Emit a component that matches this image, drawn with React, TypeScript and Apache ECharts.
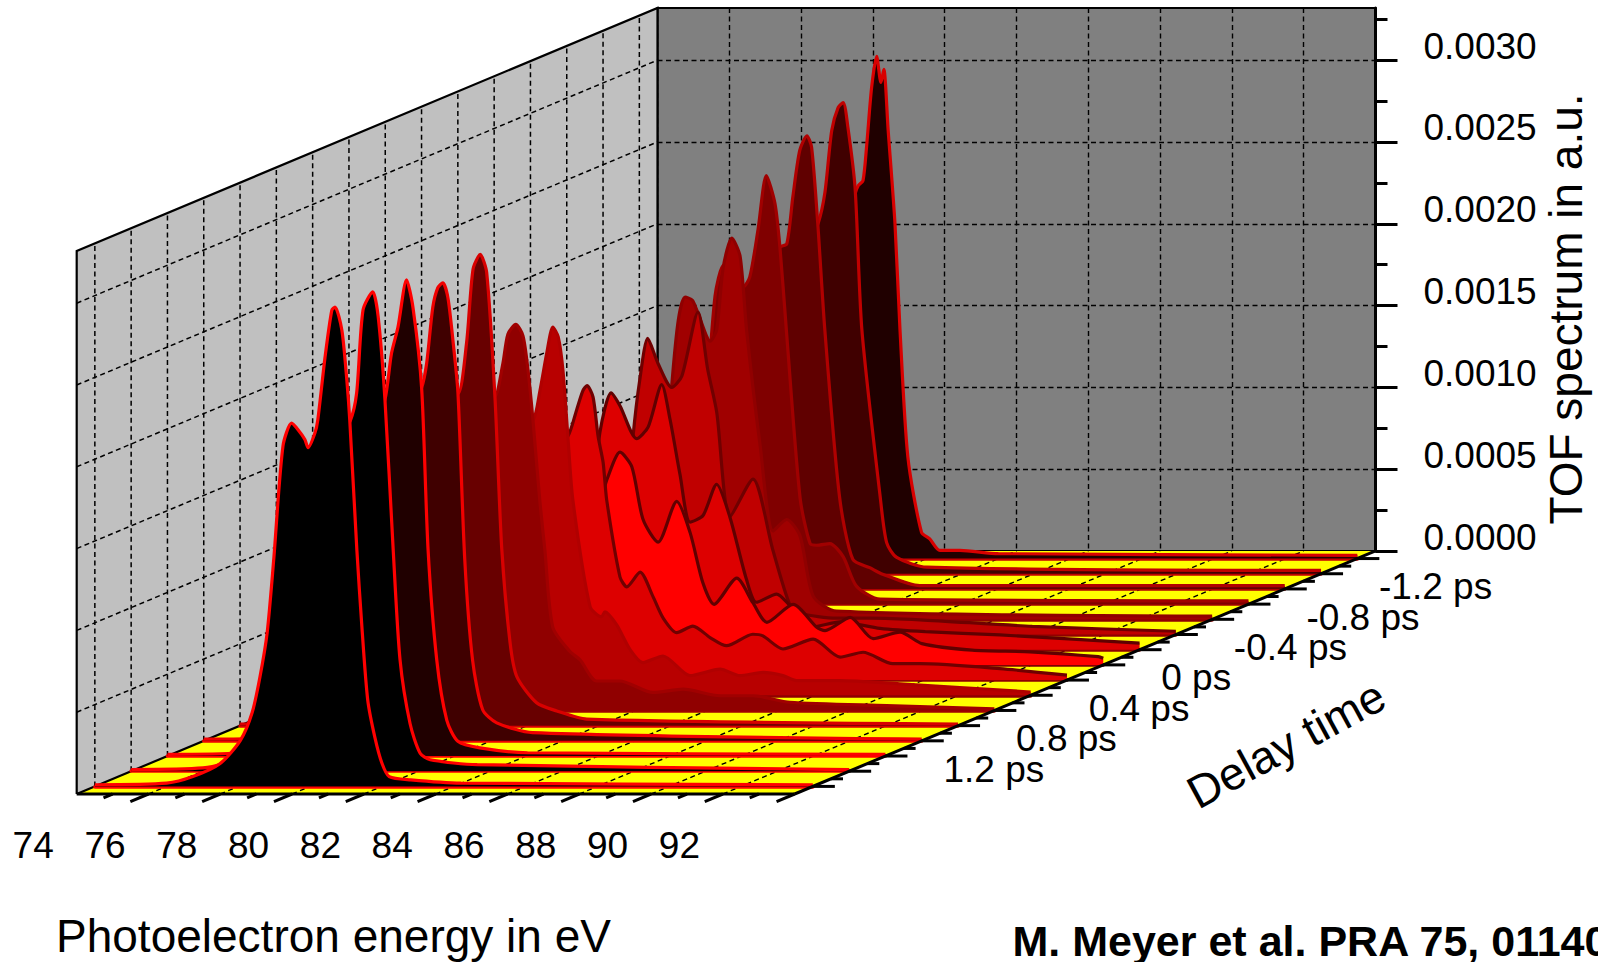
import React, { useEffect, useRef } from "react";
import * as echarts from "echarts";

// ---- data ----
const energyTicks = [74, 76, 78, 80, 82, 84, 86, 88, 90, 92];
const intensityTicks = [0, 0.0005, 0.001, 0.0015, 0.002, 0.0025, 0.003];
const intensityMinorTicks = [0.00025, 0.00075, 0.00125, 0.00175, 0.00225, 0.00275, 0.00325];
const delayLabels = [1.2, 0.8, 0.4, 0, -0.4, -0.8, -1.2];
const delays = [1.6, 1.4, 1.2, 1.0, 0.8, 0.6, 0.4, 0.2, 0, -0.2, -0.4, -0.6, -0.8, -1.0, -1.2, -1.4];

const risingEdge = [[74, 0.00001], [76, 0.00002], [76.73, 0.00006], [77.49, 0.00014], [78.05, 0.00028], [78.38, 0.00045], [78.6, 0.00067], [78.8, 0.00094]];
const hiddenShoulder = [[78.98, 0.00138], [79.24, 0.00205], [79.48, 0.0022], [79.8, 0.00205]];

const spectrum00 = [[74, 0.00001], [76, 0.00002], [76.73, 0.00006], [77.49, 0.00014], [78.05, 0.00028], [78.38, 0.00045], [78.6, 0.00067], [78.8, 0.00094], [78.98, 0.00138], [79.24, 0.00208], [79.48, 0.00222], [79.66, 0.00218], [79.85, 0.00212], [79.94, 0.00207], [80.13, 0.00216], [80.21, 0.00224], [80.41, 0.00262], [80.6, 0.00291], [80.69, 0.00293], [80.88, 0.00279], [81.02, 0.00248], [81.1, 0.00224], [81.3, 0.00144], [81.44, 0.00097], [81.6, 0.00053], [81.8, 0.0003], [82, 0.00014], [82.2, 0.00006], [82.8, 0.00004], [84.2, 0.00002], [94, 0.00001]];
const spectrum01 = [...risingEdge, ...hiddenShoulder, [80.1, 0.00214], [80.28, 0.00231], [80.46, 0.00282], [80.73, 0.00293], [80.88, 0.00278], [81.07, 0.00227], [81.3, 0.00135], [81.49, 0.00068], [81.77, 0.00029], [82.05, 0.00011], [82.33, 0.00007], [83.64, 0.00004], [94, 0.00001]];
const spectrum02 = [...risingEdge, ...hiddenShoulder, [80.06, 0.00218], [80.24, 0.00246], [80.42, 0.00262], [80.66, 0.00291], [80.84, 0.00274], [81.08, 0.00225], [81.26, 0.00126], [81.5, 0.00059], [81.78, 0.00022], [82.09, 0.00009], [82.7, 0.00005], [84.03, 0.00002], [94, 0.00001]];
const spectrum03 = [...risingEdge, ...hiddenShoulder, [80.07, 0.00216], [80.21, 0.00231], [80.38, 0.00265], [80.52, 0.00277], [80.66, 0.0028], [80.8, 0.00271], [80.94, 0.00245], [81.08, 0.00213], [81.27, 0.00111], [81.49, 0.00049], [81.77, 0.00019], [82.16, 0.00011], [83.16, 0.00005], [94, 0.00001]];
const spectrum04 = [...risingEdge, ...hiddenShoulder, [80.07, 0.00203], [80.31, 0.00234], [80.49, 0.00279], [80.69, 0.00288], [80.87, 0.00277], [81.1, 0.00201], [81.29, 0.00108], [81.52, 0.00051], [81.71, 0.0003], [82.26, 0.00014], [82.82, 0.00009], [83.66, 0.00004], [94, 0.00001]];
const spectrum05 = [...risingEdge, ...hiddenShoulder, [80.09, 0.00192], [80.31, 0.00212], [80.45, 0.0023], [80.67, 0.00236], [80.87, 0.00229], [81.01, 0.00208], [81.15, 0.00177], [81.34, 0.00128], [81.48, 0.00098], [81.7, 0.00051], [82.18, 0.00036], [82.46, 0.00031], [82.92, 0.00018], [83.57, 0.00018], [84.49, 0.00011], [85.33, 0.00013], [86.36, 0.00009], [87.28, 0.00009], [88.3, 0.00005], [91, 0.00003], [94, 0.00001]];
const spectrum06 = [...risingEdge, [78.98, 0.00125], [79.3, 0.0017], [79.7, 0.00165], [80.14, 0.00168], [80.33, 0.00186], [80.52, 0.00209], [80.69, 0.00225], [80.84, 0.00219], [80.97, 0.00199], [81.11, 0.00158], [81.25, 0.00119], [81.73, 0.00054], [82.05, 0.00048], [82.14, 0.00051], [82.47, 0.00043], [82.84, 0.00028], [83.2, 0.0002], [83.76, 0.00024], [84.51, 0.00012], [85.35, 0.00016], [85.9, 0.00012], [86.55, 0.00014], [87.1, 0.00012], [87.48, 0.00009], [88.69, 0.00009], [90.35, 0.00007], [94, 0.00002]];
const spectrum07 = [...risingEdge, [79, 0.0011], [79.3, 0.0014], [79.8, 0.00145], [80.1, 0.00149], [80.34, 0.00165], [80.52, 0.00177], [80.63, 0.0018], [80.8, 0.00173], [80.94, 0.00149], [81.08, 0.00133], [81.18, 0.0011], [81.55, 0.00063], [81.74, 0.00057], [82.11, 0.00066], [82.47, 0.00051], [82.75, 0.00038], [83.13, 0.00029], [83.58, 0.00033], [84.06, 0.00026], [84.52, 0.00021], [85.25, 0.00028], [85.53, 0.00027], [86.09, 0.00019], [86.93, 0.00025], [87.68, 0.00014], [88.32, 0.00017], [89.15, 0.0001], [89.9, 0.0001], [92.13, 0.00007], [94, 0.00003]];
const spectrum08 = [...risingEdge.slice(0, 7), [79, 0.00073], [79.5, 0.00092], [80, 0.00101], [80.17, 0.00113], [80.54, 0.0013], [80.87, 0.00121], [81.18, 0.00089], [81.6, 0.00075], [82.12, 0.001], [82.49, 0.00081], [82.85, 0.0005], [83.16, 0.00037], [83.79, 0.00053], [84.24, 0.00038], [84.63, 0.00026], [85.36, 0.00037], [86.02, 0.00023], [86.25, 0.00021], [86.95, 0.00029], [87.59, 0.00016], [88.34, 0.0002], [88.95, 0.00013], [90.35, 0.00009], [91.96, 0.00008], [93.86, 0.00005], [94, 0.00004]];
const spectrum09 = [...risingEdge, [78.97, 0.00133], [79.28, 0.00157], [79.53, 0.00149], [79.99, 0.00129], [80.31, 0.00136], [80.69, 0.00162], [80.92, 0.00141], [81.2, 0.00107], [81.48, 0.00078], [81.84, 0.00082], [82.22, 0.00101], [82.59, 0.00081], [83.05, 0.00043], [83.33, 0.00029], [83.89, 0.00034], [84.26, 0.00027], [84.9, 0.00014], [85.66, 0.00017], [86.77, 0.00013], [88.03, 0.00011], [90.11, 0.00009], [94, 0.00004]];
const spectrum10 = [...risingEdge, [78.88, 0.00121], [79.07, 0.00156], [79.29, 0.00181], [79.57, 0.00166], [79.96, 0.00151], [80.24, 0.00158], [80.69, 0.00197], [80.96, 0.00162], [81.21, 0.00136], [81.58, 0.00072], [82.22, 0.00095], [82.77, 0.00052], [83.25, 0.00018], [83.53, 0.00013], [84.55, 0.0001], [85.48, 0.0001], [86.87, 0.00009], [90, 0.00005], [94, 0.00002]];
const spectrum11 = [...risingEdge, [78.94, 0.00141], [79.13, 0.00183], [79.32, 0.00197], [79.52, 0.00195], [79.68, 0.00187], [80.02, 0.0017], [80.2, 0.00177], [80.38, 0.00215], [80.62, 0.00233], [80.85, 0.00222], [81.03, 0.00177], [81.41, 0.00106], [81.77, 0.00054], [82.15, 0.00061], [82.52, 0.00051], [82.89, 0.00014], [83.54, 0.00005], [94, 0.00002]];
const spectrum12 = [...risingEdge, [79.14, 0.00188], [79.38, 0.00207], [79.64, 0.00201], [79.93, 0.00194], [80.11, 0.002], [80.34, 0.00229], [80.57, 0.00262], [80.81, 0.00245], [80.95, 0.00218], [81.13, 0.00167], [81.51, 0.00065], [81.79, 0.00037], [81.97, 0.00036], [82.34, 0.00037], [82.71, 0.00029], [83.08, 0.00011], [83.74, 0.00003], [94, 0.00002]];
const spectrum13 = [...risingEdge, ...hiddenShoulder, [79.94, 0.00209], [80.13, 0.00211], [80.3, 0.0024], [80.49, 0.00268], [80.69, 0.00277], [80.82, 0.0027], [80.99, 0.00224], [81.19, 0.00158], [81.6, 0.00056], [81.97, 0.00018], [82.44, 0.00013], [82.8, 0.00009], [83.83, 0.00002], [94, 0.00002]];
const spectrum14 = [...risingEdge, ...hiddenShoulder.slice(0, 3), [79.77, 0.00205], [79.99, 0.00214], [80.18, 0.00233], [80.37, 0.00271], [80.55, 0.00285], [80.69, 0.00288], [80.82, 0.00273], [81.02, 0.00236], [81.21, 0.00149], [81.72, 0.00047], [81.9, 0.00019], [82.18, 0.0001], [83.02, 0.00004], [94, 0.00002]];
const spectrum15 = [...risingEdge, ...hiddenShoulder.slice(0, 3), [79.81, 0.00205], [80.01, 0.00223], [80.1, 0.00228], [80.23, 0.00231], [80.33, 0.00252], [80.47, 0.00288], [80.61, 0.00307], [80.73, 0.00291], [80.81, 0.00299], [80.93, 0.00262], [81.12, 0.00205], [81.26, 0.0014], [81.48, 0.00062], [81.86, 0.00016], [82.09, 0.00012], [82.37, 0.00005], [82.93, 0.00005], [84, 0.00003], [94, 0.00002]];

const spectra = [spectrum00, spectrum01, spectrum02, spectrum03, spectrum04, spectrum05, spectrum06, spectrum07, spectrum08, spectrum09, spectrum10, spectrum11, spectrum12, spectrum13, spectrum14, spectrum15];

// ---- styles ----
const fillColors = ["#000000", "#000000", "#200000", "#400000", "#680000", "#900000", "#b80000", "#dd0000", "#ff0000", "#dd0000", "#c00000", "#a00000", "#800000", "#600000", "#400000", "#200000"];
const lineColors = ["#ff0000", "#ff0000", "#ff0000", "#f00000", "#d80000", "#a00000", "#b00000", "#700000", "#600000", "#600000", "#700000", "#900000", "#a00000", "#b00000", "#c00000", "#d80000"];
const baseColors = ["#ff0000", "#ff0000", "#ff0000", "#f00000", "#d80000", "#a00000", "#900000", "#900000", "#800000", "#900000", "#900000", "#900000", "#a00000", "#b00000", "#c00000", "#c80000"];

const FONT = "Liberation Sans";
const FS = 37;
const TITLE_FS = 46;
const X_MIN = 74;
const X_MAX = 94;
const Y_MAX = 0.003319;
const PLOT_W = 718;
const PLOT_H = 543;
const FRONT_LEFT = 76.7;
const FRONT_TOP = 251;
const BACK_LEFT = 657.5;
const BACK_TOP = 8;
const DEPTH_DX = 36.3;
const DEPTH_DY = -15.19;
const DEPTH_CELLS = 16;

const depthOfDelay = (t: number) => (1.6 - t) / 0.2 + 0.5;

function renderLeftWall(_: any, api: any) {
  const P = (e: number, v: number, d: number) => {
    const c = api.coord([e, v]);
    return [c[0] + d * DEPTH_DX, c[1] + d * DEPTH_DY];
  };
  const kids: any[] = [];
  kids.push({
    type: "polygon",
    shape: { points: [P(X_MIN, 0, 0), P(X_MIN, 0, DEPTH_CELLS), P(X_MIN, Y_MAX, DEPTH_CELLS), P(X_MIN, Y_MAX, 0)] },
    style: { fill: "#c0c0c0" },
  });
  const dash = { stroke: "#000", lineWidth: 1.5, lineDash: [5, 3.5] };
  delays.forEach((t) => {
    const d = depthOfDelay(t);
    const a = P(X_MIN, 0, d);
    const b = P(X_MIN, Y_MAX, d);
    kids.push({ type: "line", shape: { x1: a[0], y1: a[1], x2: b[0], y2: b[1] }, style: dash });
  });
  intensityTicks.slice(1).forEach((v) => {
    const a = P(X_MIN, v, 0);
    const b = P(X_MIN, v, DEPTH_CELLS);
    kids.push({ type: "line", shape: { x1: a[0], y1: a[1], x2: b[0], y2: b[1] }, style: dash });
  });
  const solid = { stroke: "#000", lineWidth: 2.2 };
  const corners = [P(X_MIN, 0, 0), P(X_MIN, Y_MAX, 0), P(X_MIN, Y_MAX, DEPTH_CELLS), P(X_MIN, 0, DEPTH_CELLS)];
  kids.push({ type: "polyline", shape: { points: corners }, style: { ...solid, fill: "none" } });
  return { type: "group", children: kids };
}

function renderFloor(_: any, api: any) {
  const P = (e: number, d: number) => {
    const c = api.coord([e, 0]);
    return [c[0] + d * DEPTH_DX, c[1] + d * DEPTH_DY];
  };
  const kids: any[] = [];
  kids.push({
    type: "polygon",
    shape: { points: [P(X_MIN, 0), P(X_MAX, 0), P(X_MAX, DEPTH_CELLS), P(X_MIN, DEPTH_CELLS)] },
    style: { fill: "#ffff00" },
  });
  for (let e = X_MIN + 2; e < X_MAX; e += 2) {
    const a = P(e, 0);
    const b = P(e, DEPTH_CELLS);
    kids.push({ type: "line", shape: { x1: a[0], y1: a[1], x2: b[0], y2: b[1] }, style: { stroke: "#000", lineWidth: 1.4, lineDash: [5, 3.5] } });
  }
  const s = P(X_MIN, 0);
  const t = P(X_MIN, DEPTH_CELLS);
  kids.push({ type: "line", shape: { x1: s[0], y1: s[1], x2: t[0], y2: t[1] }, style: { stroke: "#000", lineWidth: 2.2 } });
  return { type: "group", children: kids };
}

function renderFrame(_: any, api: any) {
  const P = (e: number, d: number) => {
    const c = api.coord([e, 0]);
    return [c[0] + d * DEPTH_DX, c[1] + d * DEPTH_DY];
  };
  const kids: any[] = [];
  const axis = { stroke: "#000", lineWidth: 3 };
  const seg = (a: number[], b: number[], style: any) =>
    kids.push({ type: "line", shape: { x1: a[0], y1: a[1], x2: b[0], y2: b[1] }, style });
  seg(P(X_MIN, 0), P(X_MAX, 0), axis);
  seg(P(X_MAX, 0), P(X_MAX, DEPTH_CELLS), axis);
  for (let e = X_MIN + 1; e <= X_MAX; e += 1) {
    const major = e % 2 === 0;
    seg(P(e, 0), P(e, major ? -0.5 : -0.25), axis);
  }
  for (let d = 0; d <= 15; d += 1) {
    const a = P(X_MAX, d + 0.5);
    seg(a, [a[0] + 22, a[1]], axis);
    const b = P(X_MAX, d + 1);
    if (d < 15) seg(b, [b[0] + 12, b[1]], axis);
  }
  const b0 = P(X_MIN, 0);
  energyTicks.forEach((e) => {
    const c = P(e, 0);
    kids.push({
      type: "text",
      style: { text: String(e), x: c[0] - 43.5, y: b0[1] + 51, fontSize: FS, fontFamily: FONT, fill: "#000", align: "center", verticalAlign: "middle" },
    });
  });
  delayLabels.forEach((t) => {
    const c = P(X_MAX, depthOfDelay(t));
    kids.push({
      type: "text",
      style: { text: `${t} ps`, x: c[0] + 58, y: c[1] + 13, fontSize: FS, fontFamily: FONT, fill: "#000", align: "left", verticalAlign: "middle" },
    });
  });
  return { type: "group", children: kids };
}

function buildOption() {
  const grid: any[] = [
    { left: BACK_LEFT, top: BACK_TOP, width: PLOT_W, height: PLOT_H, show: true, backgroundColor: "#808080", borderColor: "#000", borderWidth: 2 },
    { left: FRONT_LEFT, top: FRONT_TOP, width: PLOT_W, height: PLOT_H },
  ];
  const xAxis: any[] = [
    { gridIndex: 0, type: "value", min: X_MIN, max: X_MAX, interval: 2, axisLine: { show: false }, axisTick: { show: false }, axisLabel: { show: false }, splitLine: { show: true, lineStyle: { color: "#000", width: 1.4, type: [5, 3.5] } } },
    { gridIndex: 1, type: "value", min: X_MIN, max: X_MAX, show: false },
  ];
  const yAxis: any[] = [
    {
      gridIndex: 0, type: "value", position: "right", min: 0, max: Y_MAX, interval: 0.0005,
      axisLine: { show: true, onZero: false, lineStyle: { color: "#000", width: 3 } },
      axisTick: { show: true, length: 22, lineStyle: { color: "#000", width: 3 }, customValues: intensityTicks },
      axisLabel: { show: true, customValues: intensityTicks, margin: 48, fontSize: FS, fontFamily: FONT, color: "#000", formatter: (v: number) => v.toFixed(4), verticalAlign: "bottom", lineHeight: 28 },
      splitLine: { show: true, lineStyle: { color: "#000", width: 1.4, type: [5, 3.5] } },
    },
    {
      gridIndex: 0, type: "value", position: "right", min: 0, max: Y_MAX,
      axisLine: { show: false },
      axisTick: { show: true, length: 12, lineStyle: { color: "#000", width: 3 }, customValues: intensityMinorTicks },
      axisLabel: { show: false },
      splitLine: { show: false },
    },
    { gridIndex: 1, type: "value", min: 0, max: Y_MAX, show: false },
  ];
  const series: any[] = [
    { type: "custom", coordinateSystem: "cartesian2d", xAxisIndex: 1, yAxisIndex: 2, data: [[X_MIN, 0]], renderItem: renderLeftWall, z: 1, silent: true, clip: false },
    { type: "custom", coordinateSystem: "cartesian2d", xAxisIndex: 1, yAxisIndex: 2, data: [[X_MIN, 0]], renderItem: renderFloor, z: 2, silent: true, clip: false },
  ];
  // curves drawn from the back (index 15) to the front (index 0)
  for (let i = spectra.length - 1; i >= 0; i--) {
    const d = depthOfDelay(delays[i]);
    const g = grid.length;
    grid.push({ left: FRONT_LEFT + d * DEPTH_DX, top: FRONT_TOP + d * DEPTH_DY, width: PLOT_W, height: PLOT_H });
    const z = 4 + (15 - i) * 2;
    xAxis.push({
      gridIndex: g, type: "value", min: X_MIN, max: X_MAX, z: z - 1,
      axisLine: { show: true, onZero: false, lineStyle: { color: baseColors[i], width: 3.5 } },
      axisTick: { show: false }, axisLabel: { show: false }, splitLine: { show: false },
    });
    yAxis.push({ gridIndex: g, type: "value", min: 0, max: Y_MAX, show: false });
    series.push({
      type: "line", name: `${delays[i]} ps`, xAxisIndex: g, yAxisIndex: g + 1, data: spectra[i],
      smooth: 0.25, showSymbol: false, symbol: "none", clip: false, silent: true, z,
      lineStyle: { color: lineColors[i], width: 3.2 },
      areaStyle: { color: fillColors[i], opacity: 1, origin: "start" },
    });
  }
  series.push({ type: "custom", coordinateSystem: "cartesian2d", xAxisIndex: 1, yAxisIndex: 2, data: [[X_MIN, 0]], renderItem: renderFrame, z: 60, silent: true, clip: false });

  return {
    animation: false,
    backgroundColor: "#ffffff",
    grid, xAxis, yAxis, series,
    graphic: [
      { type: "text", x: 56, y: 936, style: { text: "Photoelectron energy in eV", fontSize: TITLE_FS, fontFamily: FONT, fill: "#000", align: "left", verticalAlign: "middle" } },
      { type: "text", x: 1012.5, y: 941, style: { text: "M. Meyer et al. PRA 75, 01140", fontSize: 43, fontWeight: "bold", fontFamily: FONT, fill: "#000", align: "left", verticalAlign: "middle" } },
      { type: "text", x: 1566, y: 309, rotation: Math.PI / 2, style: { text: "TOF spectrum in a.u.", fontSize: TITLE_FS, fontFamily: FONT, fill: "#000", align: "center", verticalAlign: "middle" } },
      { type: "text", x: 1286, y: 744, rotation: (28.5 * Math.PI) / 180, style: { text: "Delay time", fontSize: TITLE_FS, fontFamily: FONT, fill: "#000", align: "center", verticalAlign: "middle" } },
    ],
  };
}

export default function App() {
  const ref = useRef<HTMLDivElement>(null);
  useEffect(() => {
    const chart = echarts.init(ref.current!, null, { renderer: "svg" });
    chart.setOption(buildOption() as any);
    return () => chart.dispose();
  }, []);
  return <div ref={ref} style={{ position: "fixed", left: 0, top: 0, width: 1598, height: 962 }} />;
}
